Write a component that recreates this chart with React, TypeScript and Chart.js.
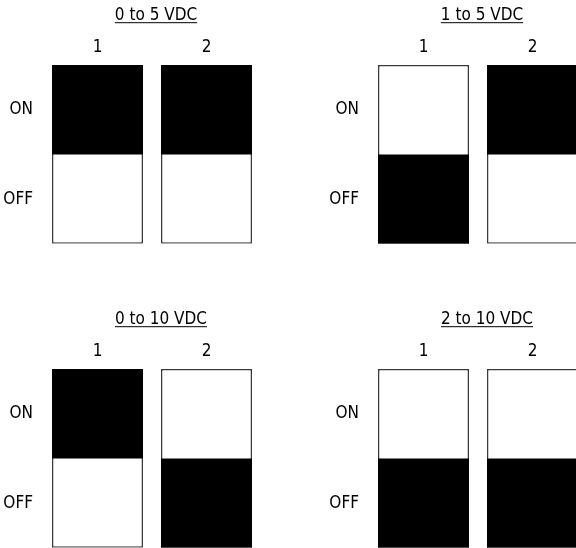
import React, { useEffect, useRef } from "react";
import { Chart, registerables } from "chart.js";

Chart.register(...registerables);

// ---- data ----
const switchLabels = ["1", "2"];
const stateLabels = ["OFF", "ON"];
const panelTitles = ["0 to 5 VDC", "1 to 5 VDC", "0 to 10 VDC", "2 to 10 VDC"];
// switch positions per panel: 1 = ON, 0 = OFF
const panel1States = [1, 1];
const panel2States = [0, 1];
const panel3States = [1, 0];
const panel4States = [0, 0];
const panelStates = [panel1States, panel2States, panel3States, panel4States];

// ---- layout / style ----
const FAMILY = "'Liberation Sans Narrow', 'Arial Narrow', 'DejaVu Sans Condensed', sans-serif";
const FONT_SIZE = 17;
const PANEL_POS = [
  { left: 0, top: 0 },
  { left: 326, top: 0 },
  { left: 0, top: 304 },
  { left: 326, top: 304 },
];
const TITLE_LEFT = 115;
const AREA_RIGHT = 261;
const CANVAS_H = 264;

function measure(text: string): number {
  const c = document.createElement("canvas");
  const ctx = c.getContext("2d")!;
  ctx.font = `normal ${FONT_SIZE}px ${FAMILY}`;
  return ctx.measureText(text).width;
}

const underlinePlugin = {
  id: "titleUnderline",
  afterDraw(chart: any) {
    const tb = chart.titleBlock;
    if (!tb) return;
    const text = chart.options.plugins.title.text as string;
    const ctx = chart.ctx;
    ctx.save();
    ctx.font = `normal ${FONT_SIZE}px ${FAMILY}`;
    const w = ctx.measureText(text).width;
    const cx = (tb.left + tb.right) / 2;
    const y = tb.top + 5 + (FONT_SIZE * 1.2) / 2 + 7.5;
    ctx.strokeStyle = "#000";
    ctx.lineWidth = 1;
    ctx.beginPath();
    ctx.moveTo(cx - w / 2, y);
    ctx.lineTo(cx + w / 2, y);
    ctx.stroke();
    ctx.restore();
  },
};

function SwitchPanel({ index }: { index: number }) {
  const ref = useRef<HTMLCanvasElement | null>(null);
  const title = panelTitles[index];
  const states = panelStates[index];
  const tw = measure(title);
  const width = Math.round(2 * (TITLE_LEFT + tw / 2));
  const rightW = width - AREA_RIGHT;

  useEffect(() => {
    if (!ref.current) return;
    const font = { family: FAMILY, size: FONT_SIZE, weight: "normal" as any };
    const chart = new Chart(ref.current, {
      type: "bar",
      data: {
        labels: switchLabels,
        datasets: [
          {
            data: states.map((s) => (s ? [1, 2] : [0, 1])) as any,
            backgroundColor: "#000",
            borderWidth: 0,
            grouped: false,
            barPercentage: 0.835,
            categoryPercentage: 1,
          } as any,
          {
            data: states.map(() => [0, 2]) as any,
            backgroundColor: "#fff",
            borderColor: "#3a3a3a",
            borderWidth: 1.5,
            borderSkipped: false,
            grouped: false,
            barPercentage: 0.835,
            categoryPercentage: 1,
          } as any,
        ],
      },
      options: {
        responsive: false,
        animation: false,
        events: [],
        layout: { padding: { left: 0, right: 0, top: 0, bottom: 7 } },
        plugins: {
          legend: { display: false },
          tooltip: { enabled: false },
          title: {
            display: true,
            text: title,
            color: "#000",
            font,
            padding: { top: 5, bottom: 0 },
          },
        },
        scales: {
          x: {
            position: "top",
            grid: { display: false, drawTicks: false },
            border: { display: false },
            ticks: { color: "#000", font, padding: 7 },
            afterFit: (s: any) => {
              s.height = 65 - (5 + FONT_SIZE * 1.2);
            },
          },
          y: {
            min: 0,
            max: 2,
            grid: { display: false, drawTicks: false },
            border: { display: false },
            afterBuildTicks: (s: any) => {
              s.ticks = [{ value: 0.5 }, { value: 1.5 }];
            },
            ticks: {
              color: "#000",
              font,
              padding: 10,
              autoSkip: false,
              callback: (v: any) => stateLabels[Math.floor(Number(v))],
            },
            afterFit: (s: any) => {
              s.width = 43;
            },
          },
          pad: {
            type: "linear",
            position: "right",
            display: true,
            grid: { display: false, drawTicks: false },
            border: { display: false },
            ticks: { display: false },
            afterFit: (s: any) => {
              s.width = rightW;
            },
          },
        } as any,
      },
      plugins: [underlinePlugin],
    });
    return () => chart.destroy();
  }, [index]);

  const pos = PANEL_POS[index];
  return (
    <canvas
      ref={ref}
      width={width}
      height={CANVAS_H}
      style={{ position: "absolute", left: pos.left, top: pos.top, width, height: CANVAS_H }}
    />
  );
}

export default function App() {
  return (
    <div
      style={{
        position: "absolute",
        left: 0,
        top: 0,
        width: 576,
        height: 548,
        overflow: "hidden",
        background: "#fff",
      }}
    >
      {panelTitles.map((_, i) => (
        <SwitchPanel key={i} index={i} />
      ))}
    </div>
  );
}
